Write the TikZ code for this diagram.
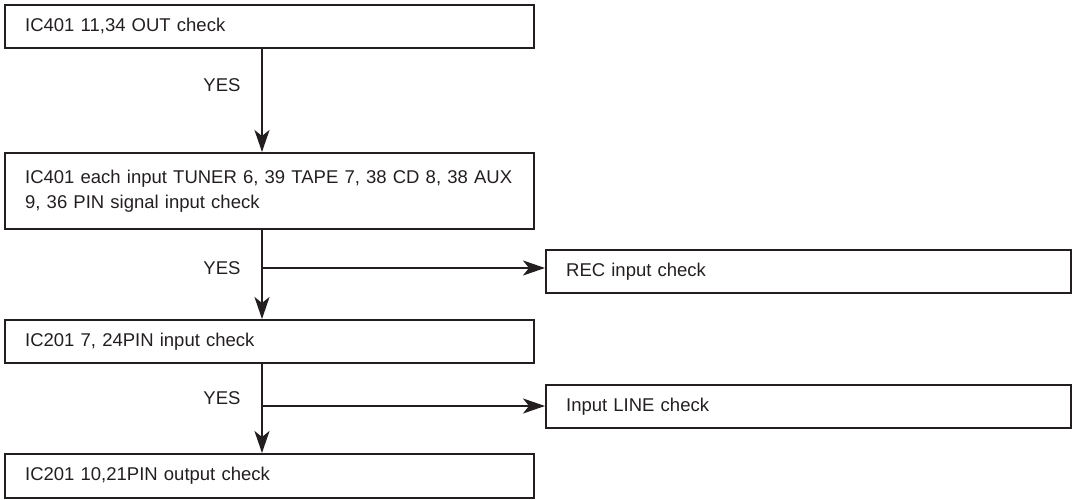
\documentclass[tikz,border=0pt]{standalone}
\usepackage{fontspec}
\setmainfont{Liberation Sans}
\usetikzlibrary{arrows.meta}
\definecolor{ink}{HTML}{231F20}
\begin{document}
\begin{tikzpicture}[x=1pt,y=-1pt,
  box/.style={draw=ink, line width=2.3pt, anchor=north west, minimum width=529pt,
    text width=489pt, inner xsep=20pt, inner ysep=0pt, align=left,
    font=\fontsize{18.5}{25}\selectfont, text=ink},
  oneline/.style={text height=14pt, text depth=5pt},
  sidebox/.style={box, oneline, minimum width=525pt, text width=485pt},
  arr/.style={draw=ink, line width=2.3pt, -{Stealth[length=22pt,width=15pt,inset=6pt]}},
  lbl/.style={font=\fontsize{18.5}{22}\selectfont, text=ink, inner sep=0pt}]
\useasboundingbox (0,0) rectangle (1072,500);
\node[box, oneline, minimum height=43pt] (b1) at (4,4) {IC401 11,34 OUT check};
\node[box, minimum height=76pt] (b2) at (4,152) {IC401 each input TUNER 6, 39 TAPE 7, 38 CD 8, 38 AUX\\9, 36 PIN signal input check};
\node[box, oneline, minimum height=43pt] (b3) at (4,319) {IC201 7, 24PIN input check};
\node[box, oneline, minimum height=44pt] (b4) at (4,453) {IC201 10,21PIN output check};
\node[sidebox, minimum height=43pt] (rec) at (545,249) {REC input check};
\node[sidebox, minimum height=43pt] (line) at (545,384) {Input LINE check};
\coordinate (tx) at (262,0);
\coordinate (j1) at (262,268);
\coordinate (j2) at (262,406);
\draw[arr] (b1.south -| tx) -- (b2.north -| tx);
\draw[arr] (b2.south -| tx) -- (b3.north -| tx);
\draw[arr] (b3.south -| tx) -- (b4.north -| tx);
\draw[arr] (j1) -- (j1 -| rec.west);
\draw[arr] (j2) -- (j2 -| line.west);
\node[lbl] (y1) at (222,85) {YES};
\node[lbl] (y2) at (222,268) {YES};
\node[lbl] (y3) at (222,398) {YES};
\end{tikzpicture}
\end{document}
